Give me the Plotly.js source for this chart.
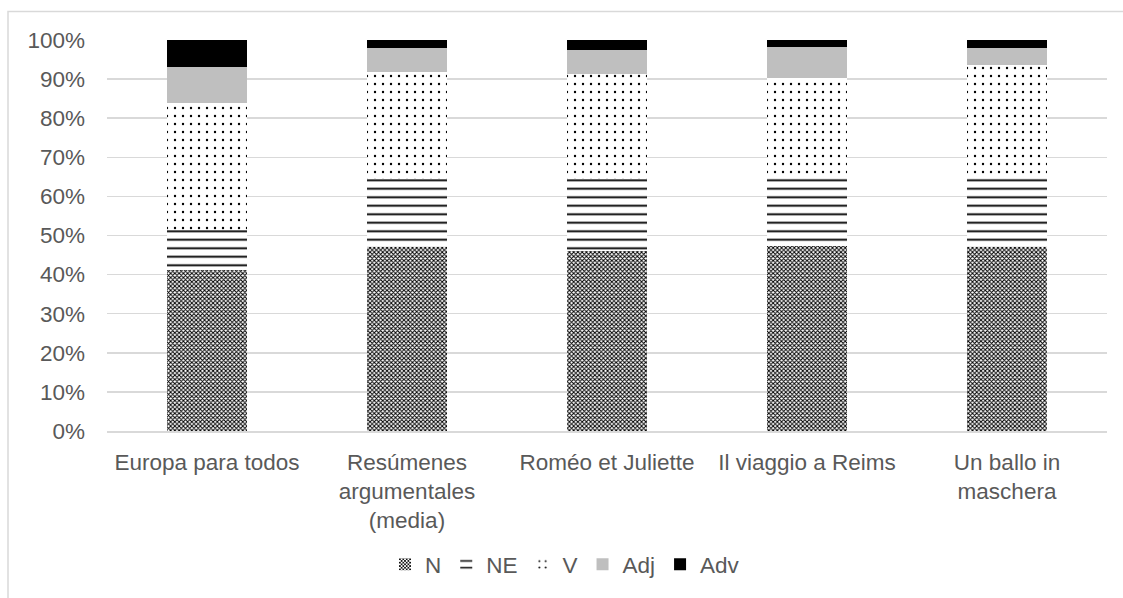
<!DOCTYPE html>
<html>
<head>
<meta charset="utf-8">
<script src="https://cdn.plot.ly/plotly-3.0.1.min.js"></script>
<style>html,body{margin:0;padding:0;background:#fff;}#chart{width:1123px;height:598px;}</style>
</head>
<body>
<div id="chart"></div>
<script>
var categories = ["Europa para todos", "Resúmenes<br>argumentales<br>(media)", "Roméo et Juliette", "Il viaggio a Reims", "Un ballo in<br>maschera"];
var N   = [0.413, 0.470, 0.460, 0.474, 0.470];
var NE  = [0.102, 0.175, 0.184, 0.183, 0.178];
var V   = [0.323, 0.272, 0.270, 0.245, 0.289];
var Adj = [0.093, 0.062, 0.061, 0.080, 0.042];
var Adv = [0.069, 0.021, 0.025, 0.018, 0.021];
var seriesNames = ["N", "NE", "V", "Adj", "Adv"];

var font = {family: "Liberation Sans, Arial, sans-serif", size: 22.5, color: "#595959"};

var traces = [
  {name: seriesNames[0], y: N, marker: {color: "#000", pattern: {shape: "x", size: 3, solidity: 0.55, fgcolor: "#000", bgcolor: "#fff"}}},
  {name: seriesNames[1], y: NE, marker: {color: "#000", pattern: {shape: "-", size: 8.5, solidity: 0.22, fgcolor: "#000", bgcolor: "#fff"}}},
  {name: seriesNames[2], y: V, marker: {color: "#000", pattern: {shape: ".", size: 8, solidity: 0.07, fgcolor: "#000", bgcolor: "#fff"}}},
  {name: seriesNames[3], y: Adj, marker: {color: "#bfbfbf"}},
  {name: seriesNames[4], y: Adv, marker: {color: "#000000"}}
].map(function(t){
  t.type = "bar"; t.x = categories; t.marker.line = {width: 0};
  t.hoverinfo = "none";
  return t;
});

var layout = {
  width: 1123, height: 598,
  margin: {l: 107, r: 16, t: 40, b: 163},
  barmode: "stack",
  bargap: 0.6,
  font: font,
  paper_bgcolor: "#fff", plot_bgcolor: "#fff",
  showlegend: true,
  legend: {orientation: "h", x: 0.458, xanchor: "center", y: -0.342, yanchor: "middle", font: font, traceorder: "normal", itemwidth: 30},
  xaxis: {type: "category", showgrid: false, showline: true, linecolor: "#d9d9d9", linewidth: 1.5, ticks: "", tickfont: font, ticklabelstandoff: 10, automargin: false},
  yaxis: {range: [0, 1], dtick: 0.1, tickformat: ".0%", showgrid: true, gridcolor: "#d9d9d9", gridwidth: 1.5, zeroline: false, showline: false, ticks: "", tickfont: font, ticklabelstandoff: 21, automargin: false},
  shapes: [{type: "rect", xref: "paper", yref: "paper", x0: -0.099, x1: 1.06, y0: -0.45, y1: 1.073, line: {color: "#d9d9d9", width: 1.5}, fillcolor: "rgba(0,0,0,0)", layer: "below"}]
};

Plotly.newPlot("chart", traces, layout, {staticPlot: true, displayModeBar: false});
</script>
</body>
</html>
